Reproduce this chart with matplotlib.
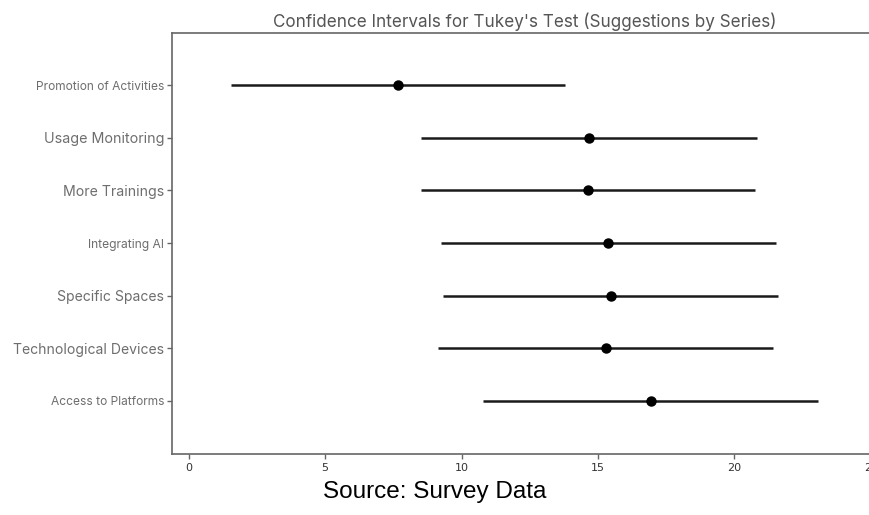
import matplotlib
matplotlib.use("Agg")
import matplotlib.pyplot as plt
import numpy as np

# Group order from bottom (y=0) to top
groups = [
    "Access to Platforms",
    "Technological Devices",
    "Specific Spaces",
    "Integrating AI",
    "More Trainings",
    "Usage Monitoring",
    "Promotion of Activities",
]
means = [16.94, 15.29, 15.47, 15.38, 14.64, 14.68, 7.67]
lower = [10.80, 9.14, 9.33, 9.24, 8.50, 8.51, 1.54]
upper = [23.07, 21.43, 21.60, 21.51, 20.77, 20.81, 13.80]
label_sizes = [8.6, 10.1, 10.1, 8.7, 10.2, 10.3, 8.6]
xticks = [0, 5, 10, 15, 20, 25]

fig = plt.figure(figsize=(8.7, 5.15), dpi=100)
W, H = 870, 515
left_px, right_px, top_px, bot_px = 172, 877, 32.5, 453.5
ax = fig.add_axes([left_px / W, 1 - bot_px / H,
                   (right_px - left_px) / W, (bot_px - top_px) / H])

y = np.arange(len(groups))
ax.hlines(y, lower, upper, color="#1a1a1a", lw=1.8)
ax.plot(means, y, "o", color="black", ms=6.5)

span = max(upper) - min(lower)
ax.set_xlim(min(lower) - span / 10, max(upper) + span / 10)
ax.set_ylim(-1, len(groups))

ax.set_yticks(y)
ax.set_yticklabels(groups, family="Inter", color="#6e6e6e")
for lab, sz in zip(ax.get_yticklabels(), label_sizes):
    lab.set_fontsize(sz)
ax.set_xticks(xticks)
ax.set_xticklabels([str(t) for t in xticks], fontsize=8, color="#333333")

for s in ax.spines.values():
    s.set_color("#666666")
    s.set_linewidth(1.2)
ax.tick_params(axis="both", colors="#666666", length=3.5, width=1.0)
ax.tick_params(axis="x", labelcolor="#333333")
ax.tick_params(axis="y", labelcolor="#6e6e6e", pad=2)

ax.set_title("Confidence Intervals for Tukey's Test (Suggestions by Series)",
             family="Inter", fontsize=12.3, color="#555555", pad=4)

fig.text(0.5, 1 - 492 / H, "Source: Survey Data", family="Liberation Sans",
         fontsize=17.5, color="black", ha="center", va="center")

fig.savefig("out.png", dpi=100)
